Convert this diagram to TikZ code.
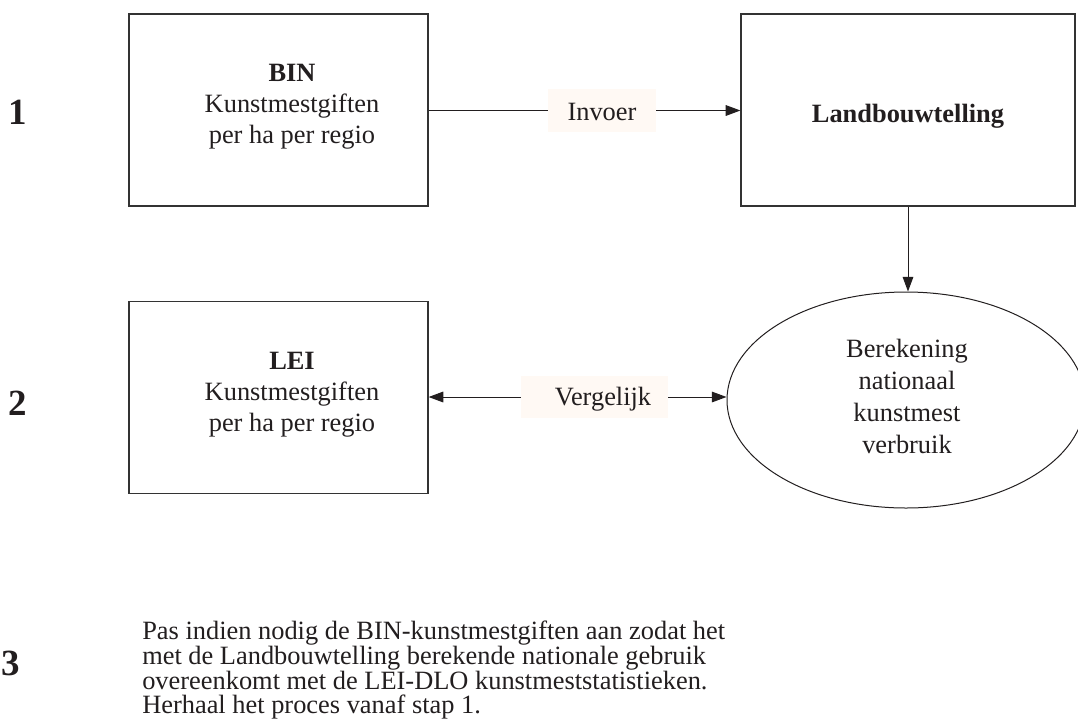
\documentclass[tikz,border=0pt]{standalone}
\usepackage{fontspec}
\setmainfont{Liberation Serif}
\usetikzlibrary{shapes.geometric,arrows.meta}
\definecolor{lblbg}{RGB}{255,249,244}
\definecolor{ink}{RGB}{34,30,31}
\begin{document}
\begin{tikzpicture}[x=0.75pt,y=-0.75pt,
  box/.style={draw=black!80, line width=0.9pt, rectangle, inner sep=0pt, minimum height=144pt},
  lbl/.style={fill=lblbg, inner sep=0pt},
  txt/.style={font=\fontsize{19.8}{23.25}\selectfont, text=ink, inner sep=0pt, align=center},
  num/.style={font=\fontsize{27.7}{30}\selectfont\bfseries, text=ink, inner sep=0pt},
  conn/.style={draw=ink, line width=0.75pt},
  arr/.style={conn, -{Triangle[length=11pt,width=8pt]}}]
\useasboundingbox (0,0) rectangle (1078,722);
% boxes
\node[box, minimum width=224.25pt] (bin) at (278.5,110) {};
\node[box, minimum width=224.25pt] (lei) at (278.5,397.5) {};
\node[box, minimum width=250.5pt] (land) at (908,110) {};
\node[draw=ink, line width=0.75pt, ellipse, inner sep=0pt, minimum width=268.5pt, minimum height=162pt] (ell) at (906,400) {};
% label backgrounds
\node[lbl, minimum width=81pt, minimum height=32.25pt] (invbg) at (602,110.5) {};
\node[lbl, minimum width=110.25pt, minimum height=31.5pt] (vbg) at (594.5,397) {};
% texts
\node[txt] (bintxt) at (292,107) {\textbf{BIN}\\Kunstmestgiften\\per ha per regio};
\node[txt] (leitxt) at (292,395) {\textbf{LEI}\\Kunstmestgiften\\per ha per regio};
\node[txt, anchor=base] (landtxt) at (908,122) {\textbf{Landbouwtelling}};
\node[txt, font=\fontsize{19.8}{23.8}\selectfont] (elltxt) at (907,396.5) {Berekening\\nationaal\\kunstmest\\verbruik};
\node[txt, anchor=base] (invtxt) at (602,120) {Invoer};
\node[txt, anchor=base] (vtxt) at (603,405) {Vergelijk};
% step numbers
\node[num, anchor=base] (n1) at (18,124) {1};
\node[num, anchor=base] (n2) at (18,415) {2};
\node[num, anchor=base] (n3) at (11,675) {3};
% note
\node[txt, align=left, anchor=west, font=\fontsize{19.8}{18}\selectfont] (note) at (142,670) {Pas indien nodig de BIN-kunstmestgiften aan zodat het\\met de Landbouwtelling berekende nationale gebruik\\overeenkomt met de LEI-DLO kunstmeststatistieken.\\Herhaal het proces vanaf stap 1.};
% connectors
\draw[conn] (bin.east) -- (bin.east -| invbg.west);
\draw[arr] (invbg.east) -- (invbg.east -| land.west);
\draw[arr] (land.south) -- (land.south |- ell.north);
\draw[arr] (vbg.west) -- (vbg.west -| lei.east);
\draw[arr] (vbg.east) -- (vbg.east -| ell.west);
\end{tikzpicture}
\end{document}
